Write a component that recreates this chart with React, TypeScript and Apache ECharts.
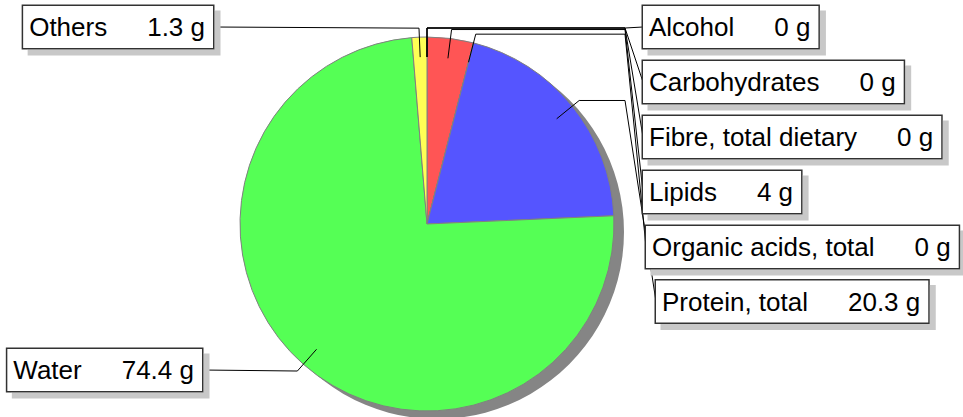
import { useEffect, useRef } from 'react';
import * as echarts from 'echarts';

// ---- data ----
const names = [
  'Alcohol',
  'Carbohydrates',
  'Fibre, total dietary',
  'Lipids',
  'Organic acids, total',
  'Protein, total',
  'Water',
  'Others',
];
const values = [0, 0, 0, 4, 0, 20.3, 74.4, 1.3];
const unit = 'g';
const sliceColors = ['#ff5555', '#ff5555', '#ff5555', '#ff5555', '#5555ff', '#5555ff', '#55ff55', '#ffff55'];

// ---- layout ----
const CX = 427;
const CY = 224;
const R = 187;
const FONT = '"Liberation Sans", Arial, sans-serif';
const FS = 26;
const labelAnchors: { side: 'left' | 'right'; x: number; y: number }[] = [
  { side: 'right', x: 643, y: 27 },
  { side: 'right', x: 643, y: 82 },
  { side: 'right', x: 643, y: 137 },
  { side: 'right', x: 643, y: 192 },
  { side: 'right', x: 646, y: 247 },
  { side: 'right', x: 656, y: 301.5 },
  { side: 'left', x: 202, y: 370 },
  { side: 'left', x: 213, y: 27 },
];
const JOIN_X = 625;

export default function App() {
  const ref = useRef<HTMLDivElement>(null);
  useEffect(() => {
    if (!ref.current) return;
    const chart = echarts.init(ref.current, null, { renderer: 'svg' });
    const total = values.reduce((a, b) => a + b, 0);
    const option: any = {
      animation: false,
      backgroundColor: '#ffffff',
      series: [
        {
          type: 'pie',
          silent: true,
          z: 1,
          center: [CX + 10, CY + 8],
          radius: R,
          startAngle: 90,
          label: { show: false },
          labelLine: { show: false },
          itemStyle: { color: '#858585', borderWidth: 0 },
          emphasis: { disabled: true },
          data: [{ value: 1, name: 'shadow' }],
        },
        {
          type: 'pie',
          silent: true,
          z: 2,
          center: [CX, CY],
          radius: R,
          startAngle: 90,
          clockwise: true,
          emphasis: { disabled: true },
          itemStyle: { borderColor: '#808080', borderWidth: 1 },
          label: { show: false },
          labelLine: { show: false },
          data: names.map((n, i) => ({
            name: n,
            value: values[i],
            itemStyle: { color: sliceColors[i] },
          })),
        },
        {
          type: 'pie',
          silent: true,
          z: 5,
          center: [CX, CY],
          radius: R,
          startAngle: 90,
          clockwise: true,
          avoidLabelOverlap: false,
          emphasis: { disabled: true },
          itemStyle: { color: 'rgba(0,0,0,0)', borderWidth: 0 },
          data: names.map((n, i) => ({ name: n, value: values[i] })),
          label: {
            show: true,
            position: 'outside',
            formatter: (p: any) => `{n|${p.name}}{v|${p.value} ${unit}}`,
            fontFamily: FONT,
            fontSize: FS,
            color: '#000',
            backgroundColor: '#ffffff',
            borderColor: '#333333',
            borderWidth: 1.5,
            padding: [8, 8, 8, 6],
            shadowColor: '#c8c8c8',
            shadowOffsetX: 6,
            shadowOffsetY: 6,
            shadowBlur: 0,
            rich: {
              n: { fontFamily: FONT, fontSize: FS, lineHeight: FS, color: '#000' },
              v: { fontFamily: FONT, fontSize: FS, lineHeight: FS, color: '#000', padding: [0, 0, 0, 40] },
            },
          },
          labelLine: {
            show: true,
            showAbove: true,
            smooth: false,
            lineStyle: { color: '#000', width: 1 },
          },
          labelLayout: (params: any) => {
            const i = params.dataIndex;
            let before = 0;
            for (let k = 0; k < i; k++) before += values[k];
            const mid = ((before + values[i] / 2) / total) * Math.PI * 2;
            const dx = Math.sin(mid);
            const dy = -Math.cos(mid);
            const start = [CX + dx * (R - 20), CY + dy * (R - 20)];
            const elbow = [CX + dx * (R + 9), CY + dy * (R + 9)];
            const a = labelAnchors[i];
            if (a.side === 'right') {
              return {
                x: a.x,
                y: a.y,
                align: 'left',
                verticalAlign: 'middle',
                labelLinePoints: [start, elbow, [JOIN_X, elbow[1]], [a.x, a.y]],
              };
            }
            return {
              x: a.x,
              y: a.y,
              align: 'right',
              verticalAlign: 'middle',
              labelLinePoints: [start, elbow, [a.x, a.y]],
            };
          },
        },
      ],
    };
    chart.setOption(option);
    return () => chart.dispose();
  }, []);
  return (
    <div
      ref={ref}
      style={{ position: 'absolute', left: 0, top: 0, width: 963, height: 417 }}
    />
  );
}
